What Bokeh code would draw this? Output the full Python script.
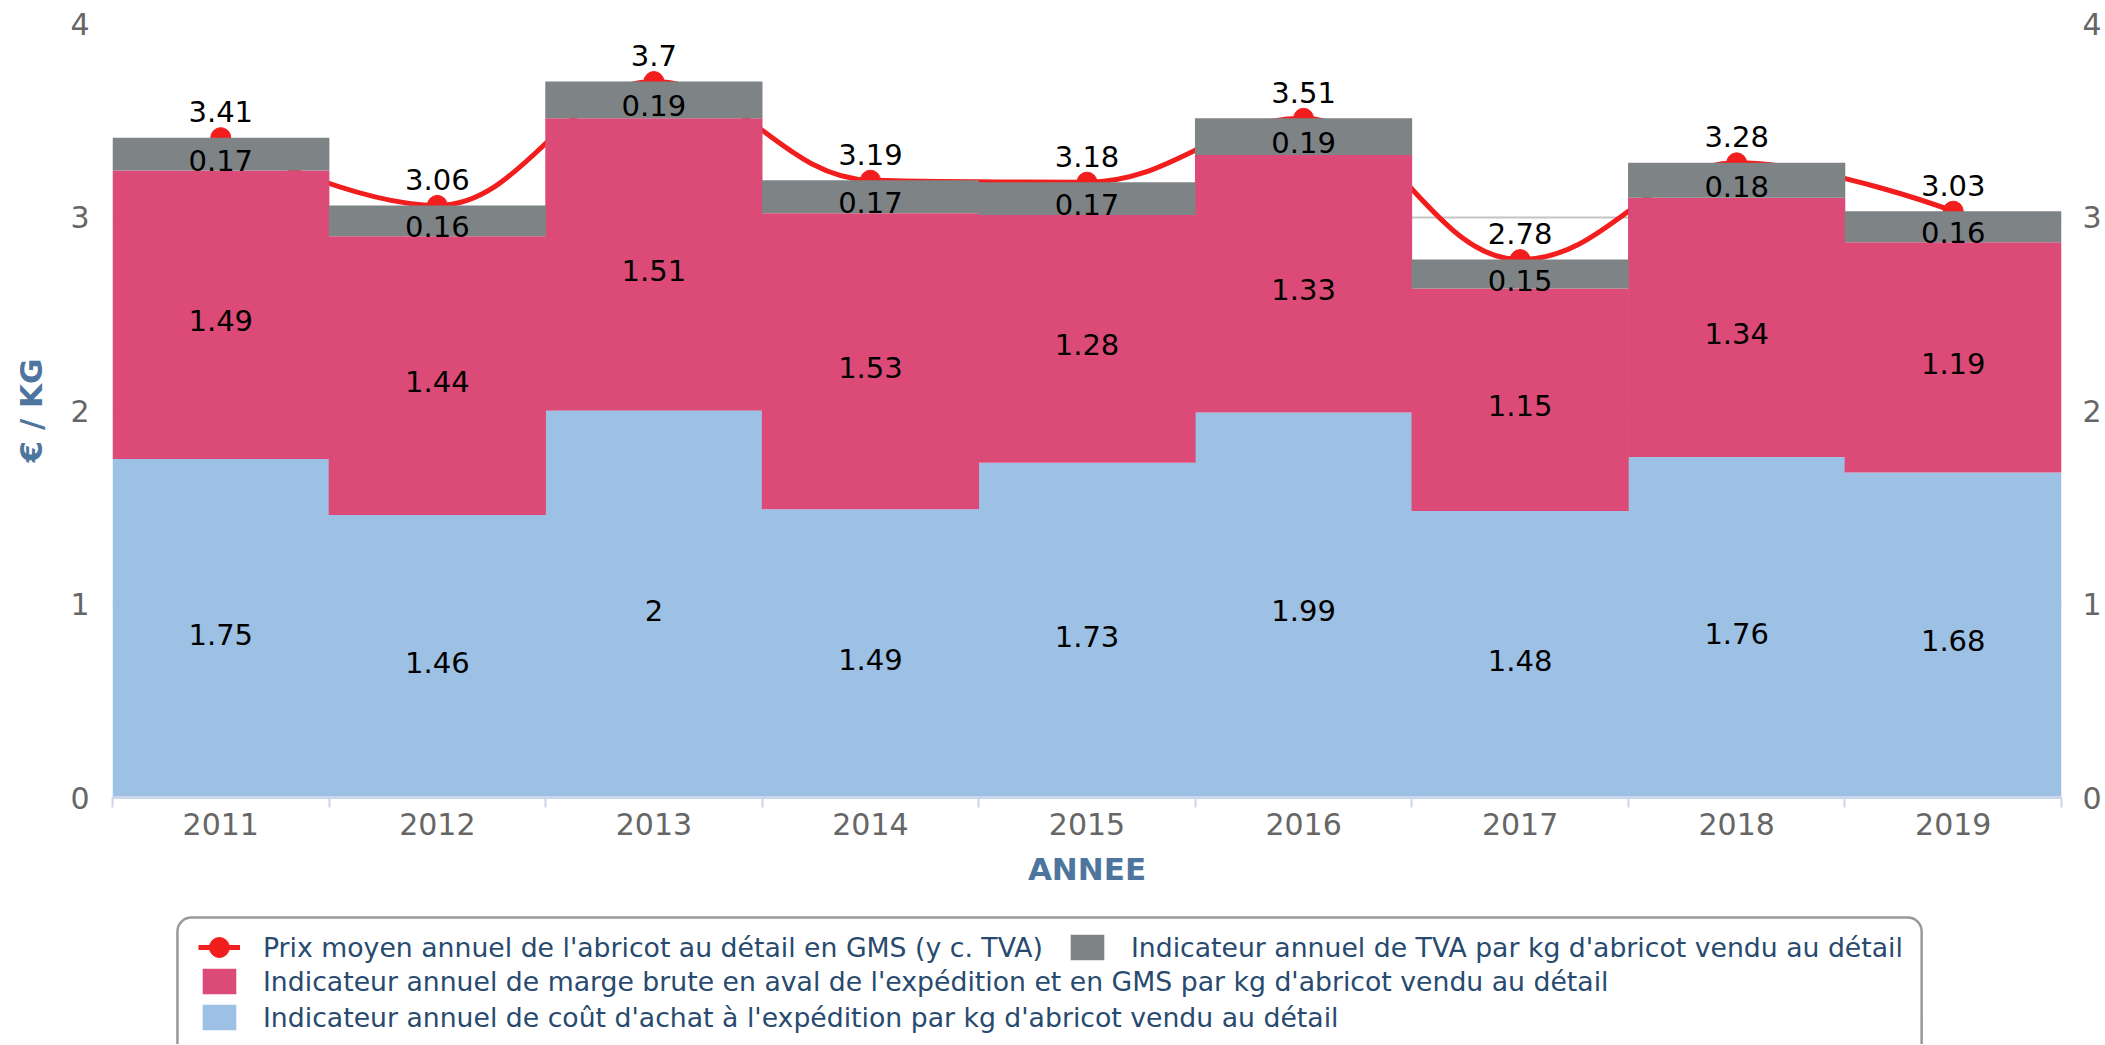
import numpy as np
from bokeh.plotting import figure
from bokeh.models import (ColumnDataSource, FixedTicker, LinearAxis, Range1d,
                          Legend, LegendItem, BoxAnnotation)
from bokeh.layouts import column
from bokeh.embed import file_html
from bokeh.resources import INLINE
from bokeh.core.properties import value

# ---------------- data ----------------
years = ["2011", "2012", "2013", "2014", "2015", "2016", "2017", "2018", "2019"]
cout = [1.75, 1.46, 2.0, 1.49, 1.73, 1.99, 1.48, 1.76, 1.68]
marge = [1.49, 1.44, 1.51, 1.53, 1.28, 1.33, 1.15, 1.34, 1.19]
tva = [0.17, 0.16, 0.19, 0.17, 0.17, 0.19, 0.15, 0.18, 0.16]
prix = [3.41, 3.06, 3.70, 3.19, 3.18, 3.51, 2.78, 3.28, 3.03]
y_ticks = [0, 1, 2, 3, 4]

lab_prix = "Prix moyen annuel de l'abricot au détail en GMS (y c. TVA)"
lab_tva = "Indicateur annuel de TVA par kg d'abricot vendu au détail"
lab_marge = "Indicateur annuel de marge brute en aval de l'expédition et en GMS par kg d'abricot vendu au détail"
lab_cout = "Indicateur annuel de coût d'achat à l'expédition par kg d'abricot vendu au détail"
x_title = "ANNEE"
y_title = "€ / KG"

# ---------------- style / layout ----------------
FONT = "DejaVu Sans"
BLUE = "#9cc1e5"
PINK = "#dc4b77"
GRAY = "#7e8385"
RED = "#f21d1d"
TITLE_C = "#4d759e"
TICK_C = "#666666"
LEG_C = "#284a6e"

W = 2104
FL, FR, FT, FB = 112, 2063, 23, 797   # plot frame in page pixels
H1 = 905
HT = 1044
H2 = HT - H1

x = np.arange(len(years))

p = figure(width=W, height=H1, x_range=Range1d(-0.5, len(years) - 0.5),
           y_range=Range1d(0, 4), output_backend="svg", toolbar_location=None,
           title=None, min_border_left=FL, min_border_right=W - FR,
           min_border_top=FT, min_border_bottom=H1 - FB)
p.outline_line_color = None
p.background_fill_color = "white"
p.border_fill_color = "white"


# ---- Highcharts-like spline through the price points ----
def spline_segments(xs, ys, smoothing=1.5):
    n = len(xs)
    denom = smoothing + 1
    lcx, lcy = list(map(float, xs)), list(map(float, ys))
    rcx, rcy = list(map(float, xs)), list(map(float, ys))
    for i in range(1, n - 1):
        px, py = xs[i], ys[i]
        lx, ly = xs[i - 1], ys[i - 1]
        nx, ny = xs[i + 1], ys[i + 1]
        lX = (smoothing * px + lx) / denom
        lY = (smoothing * py + ly) / denom
        rX = (smoothing * px + nx) / denom
        rY = (smoothing * py + ny) / denom
        corr = 0.0
        if rX != lX:
            corr = ((rY - lY) * (rX - px)) / (rX - lX) + py - rY
        lY += corr
        rY += corr
        if lY > ly and lY > py:
            lY = max(ly, py); rY = 2 * py - lY
        elif lY < ly and lY < py:
            lY = min(ly, py); rY = 2 * py - lY
        if rY > ny and rY > py:
            rY = max(ny, py); lY = 2 * py - rY
        elif rY < ny and rY < py:
            rY = min(ny, py); lY = 2 * py - rY
        lcx[i], lcy[i], rcx[i], rcy[i] = lX, lY, rX, rY
    seg = dict(x0=[], y0=[], x1=[], y1=[], cx0=[], cy0=[], cx1=[], cy1=[])
    for i in range(1, n):
        seg["x0"].append(float(xs[i - 1])); seg["y0"].append(float(ys[i - 1]))
        seg["cx0"].append(rcx[i - 1]); seg["cy0"].append(rcy[i - 1])
        seg["cx1"].append(lcx[i]); seg["cy1"].append(lcy[i])
        seg["x1"].append(float(xs[i])); seg["y1"].append(float(ys[i]))
    return seg


seg = spline_segments(list(x), prix)
p.bezier(x0="x0", y0="y0", x1="x1", y1="y1", cx0="cx0", cy0="cy0", cx1="cx1",
         cy1="cy1", source=ColumnDataSource(seg), line_color=RED, line_width=5)
p.scatter(x=x, y=prix, size=20, marker="circle", fill_color=RED, line_color=RED)

# ---- stacked columns (drawn over the line, as in the reference) ----
src = ColumnDataSource(dict(x=x, cout=cout, marge=marge, tva=tva))
p.vbar_stack(["cout", "marge", "tva"], x="x", width=1.003, source=src,
             fill_color=[BLUE, PINK, GRAY], line_color=None)

# ---- data labels ----
c1 = np.array(cout)
c2 = c1 + np.array(marge)
lab_y = np.concatenate([c1 / 2, c1 + np.array(marge) / 2, c2 + np.array(tva) / 2])
lab_t = [f"{v:g}" for v in cout + marge + tva]
p.text(x=np.concatenate([x, x, x]), y=lab_y, text=lab_t, text_font=value(FONT),
       text_font_size="29px", text_color="black", text_align="center",
       text_baseline="middle", y_offset=6)
p.text(x=x, y=prix, text=[f"{v:g}" for v in prix], text_font=value(FONT),
       text_font_size="29px", text_color="black", text_align="center",
       text_baseline="middle", y_offset=-26)

# ---- axes ----
xa = p.xaxis[0]
xa.ticker = FixedTicker(ticks=list(range(len(years))),
                        minor_ticks=[i - 0.5 for i in range(len(years) + 1)])
xa.major_label_overrides = {i: years[i] for i in range(len(years))}
xa.axis_line_color = "#ccd6eb"
xa.axis_line_width = 3
xa.major_tick_line_color = None
xa.major_tick_out = 0
xa.major_tick_in = 0
xa.minor_tick_line_color = "#ccd6eb"
xa.minor_tick_line_width = 2
xa.minor_tick_out = 10
xa.minor_tick_in = 0
xa.major_label_text_font = FONT
xa.major_label_text_font_size = "30px"
xa.major_label_text_color = TICK_C
xa.major_label_standoff = 5
xa.axis_label = x_title
xa.axis_label_text_font = FONT
xa.axis_label_text_font_size = "31px"
xa.axis_label_text_font_style = "bold"
xa.axis_label_text_color = TITLE_C
xa.axis_label_standoff = 13

ya = p.yaxis[0]
ya.ticker = FixedTicker(ticks=y_ticks)
ya.axis_line_color = None
ya.major_tick_line_color = None
ya.minor_tick_line_color = None
ya.major_tick_out = 0
ya.major_label_text_font = FONT
ya.major_label_text_font_size = "30px"
ya.major_label_text_color = TICK_C
ya.major_label_standoff = 23
ya.axis_label = y_title
ya.axis_label_text_font = FONT
ya.axis_label_text_font_size = "31px"
ya.axis_label_text_font_style = "bold"
ya.axis_label_text_color = TITLE_C
ya.axis_label_standoff = 18

ra = LinearAxis(ticker=FixedTicker(ticks=y_ticks))
ra.axis_line_color = None
ra.major_tick_line_color = None
ra.minor_tick_line_color = None
ra.major_tick_out = 0
ra.major_label_text_font = FONT
ra.major_label_text_font_size = "30px"
ra.major_label_text_color = TICK_C
ra.major_label_standoff = 21
p.add_layout(ra, "right")

p.xgrid.visible = False
p.ygrid.ticker = FixedTicker(ticks=y_ticks)
p.ygrid.grid_line_color = "#c4c4c4"
p.ygrid.grid_line_width = 2

# ---------------- legend figure (frame aligned with the chart frame) ----------------
# data units of this figure are page pixels (y flipped)
p2 = figure(width=W, height=H2, x_range=Range1d(FL, FR), y_range=Range1d(HT, H1),
            output_backend="svg", toolbar_location=None, title=None,
            min_border=0, x_axis_location=None, y_axis_location=None)
p2.outline_line_color = None
p2.xgrid.visible = False
p2.ygrid.visible = False

BOX_L, BOX_R, BOX_T = 177, 1923, 917
LEG_X = 198
GW, GH = 42, 32
ROW1_TOP, ROW2_TOP = 931, 965
ROW_GAP = 4

box = BoxAnnotation(left=BOX_L, right=BOX_R, top=BOX_T, bottom=HT + 20,
                    fill_color=None, line_color="#999999", line_alpha=1.0,
                    line_width=2.5, border_radius=14)
p2.add_layout(box)

# legend-only renderers (one point far outside the visible range)
far = dict(x=[-10000], y=[-10000])
r_line = p2.line(x="x", y="y", source=ColumnDataSource(far), line_color=RED, line_width=5)
r_tva = p2.vbar(x="x", top="y", width=1, source=ColumnDataSource(far), fill_color=GRAY,
                line_color=None, border_radius=6)
r_marge = p2.vbar(x="x", top="y", width=1, source=ColumnDataSource(far), fill_color=PINK,
                  line_color=None, border_radius=6)
r_cout = p2.vbar(x="x", top="y", width=1, source=ColumnDataSource(far), fill_color=BLUE,
                 line_color=None, border_radius=6)

leg1 = Legend(items=[LegendItem(label=lab_prix, renderers=[r_line]),
                     LegendItem(label=lab_tva, renderers=[r_tva])],
              orientation="horizontal",
              location=(LEG_X - FL, HT - (ROW1_TOP + GH)), spacing=23)
leg2 = Legend(items=[LegendItem(label=lab_marge, renderers=[r_marge]),
                     LegendItem(label=lab_cout, renderers=[r_cout])],
              orientation="vertical",
              location=(LEG_X - FL, HT - (ROW2_TOP + 2 * GH + ROW_GAP)), spacing=ROW_GAP)
for lg in (leg1, leg2):
    lg.glyph_width = GW
    lg.glyph_height = GH
    lg.label_standoff = 23
    lg.padding = 0
    lg.margin = 0
    lg.border_line_color = None
    lg.background_fill_alpha = 0
    lg.label_text_font = FONT
    lg.label_text_font_size = "26.7px"
    lg.label_text_color = LEG_C
    p2.add_layout(lg)

# round marker of the price legend symbol (centre of its legend glyph)
p2.scatter(x=[LEG_X + GW / 2], y=[ROW1_TOP + GH / 2], size=20,
           marker="circle", fill_color=RED, line_color=RED)

layout = column(p, p2, spacing=0)
open("out.html", "w").write(file_html(layout, INLINE))
